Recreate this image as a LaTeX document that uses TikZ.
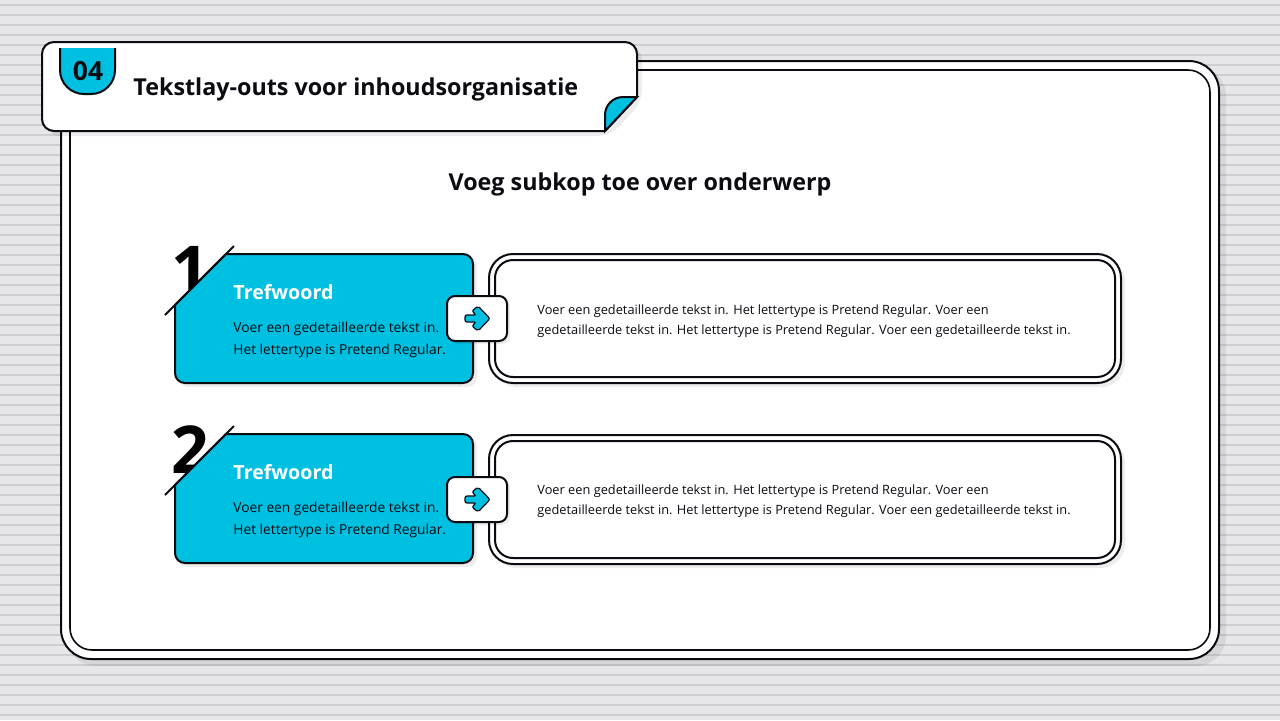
\documentclass[tikz,border=0pt]{standalone}
\usepackage{fontspec}
\setmainfont{Open Sans}
\definecolor{cyanvak}{HTML}{00C0E2}
\definecolor{inkt}{HTML}{0B0B12}
\definecolor{papier}{HTML}{E7E6E9}
\definecolor{streep}{HTML}{CECDD0}
\begin{document}
\begin{tikzpicture}[
x=0.5pt,y=-0.5pt,
lijn/.style={draw=inkt, line width=1pt},
dunlijn/.style={draw=inkt, line width=0.8pt},
schaduw/.style={fill=black, fill opacity=0.07, draw=none},
kop/.style={text=inkt, font=\bfseries\fontsize{11.65}{14}\selectfont, inner sep=0pt},
woord/.style={text=white, font=\bfseries\fontsize{9.8}{12}\selectfont, anchor=west, inner sep=0pt},
tekstklein/.style={text=inkt, font=\fontsize{6.88}{11}\selectfont, anchor=west, inner sep=0pt, align=left},
cijfer/.style={text=black, font=\bfseries\fontsize{33}{36}\selectfont, inner sep=0pt},
]
\useasboundingbox (0,0) rectangle (1280,720);
\fill[papier] (0,0) rectangle (1280,720);
\foreach \y in {5,15,...,715}
  \fill[streep] (0,\y-1) rectangle (1280,\y+1);

% grote kader
\fill[schaduw, rounded corners=15pt] (66,66) rectangle (1226,666);
\filldraw[lijn, fill=white, rounded corners=15pt] (61,61) rectangle (1219,659);
\draw[dunlijn, rounded corners=11pt] (70,70) rectangle (1210,650);

% titel
\fill[schaduw, rounded corners=6pt] (47,47) -- (642,47) -- (642,102) -- (610,136) -- (47,136) -- cycle;
\filldraw[lijn, fill=white, rounded corners=6pt] (42,42) -- (637,42) -- (637,70) [sharp corners] -- (637,97) -- (605,131) [rounded corners=6pt] -- (42,131) -- cycle;
\filldraw[lijn, fill=cyanvak] [rounded corners=9pt] (605,131) -- (605,97) [sharp corners] -- (637,97) -- cycle;
\fill[cyanvak] (60,48) -- (115,48) [rounded corners=12pt] -- (115,94) -- (60,94) [sharp corners] -- (60,48) -- cycle;
\draw[lijn, rounded corners=12pt] (60,48) -- (60,94) -- (115,94) -- (115,48);
\node[kop, font=\bfseries\fontsize{13.2}{14}\selectfont] (nummer) at (88,71) {04};
\node[kop, anchor=west] (titel) at (133,89) {Tekstlay-outs voor inhoudsorganisatie};
\node[kop] (subkop) at (640,184) {Voeg subkop toe over onderwerp};

% twee rijen
\foreach \n/\d/\k/\c in {1/0/0/1,2/180/1/2} {
  \begin{scope}[yshift=-\d*0.5pt]
  \node[cijfer] (cijfer\n) at (190,270) {\c};
  \fill[schaduw, rounded corners=5pt] (178,308) -- (229,257) -- (477,257) -- (477,387) -- (178,387) -- cycle;
  \filldraw[lijn, fill=cyanvak, rounded corners=5pt] (175,383) -- (175,320) [sharp corners] -- (175,305) -- (226,254) [rounded corners=5pt] -- (473,254) -- (473,383) -- cycle;
  \draw[lijn] (165,315) -- (234,246);
  \node[woord] (woord\n) at (233,292) {Trefwoord};
  \node[tekstklein] (links\n) at (233,340) {Voer een gedetailleerde tekst in.\\Het lettertype is Pretend Regular.};
  \begin{scope}[yshift=-\k*0.5pt]
  \fill[schaduw, rounded corners=12pt] (493,258) rectangle (1125,387);
  \filldraw[lijn, fill=white, rounded corners=12pt] (489,254) rectangle (1121,383);
  \draw[lijn, rounded corners=9pt] (495,260) rectangle (1115,377);
  \fill[schaduw, rounded corners=4pt] (450,299) rectangle (510,344);
  \filldraw[lijn, fill=white, rounded corners=4pt] (447,296) rectangle (507,341);
  \filldraw[draw=inkt, line width=0.6pt, fill=cyanvak, rounded corners=1pt] (465,315) -- (476,315) -- (472,311) -- (478,306) -- (490,318.5) -- (478,331) -- (472,326) -- (476,322) -- (465,322) -- cycle;
  \end{scope}
  \node[tekstklein, font=\fontsize{6.4}{10}\selectfont] (rechts\n) at (537,321) {Voer een gedetailleerde tekst in. Het lettertype is Pretend Regular. Voer een\\gedetailleerde tekst in. Het lettertype is Pretend Regular. Voer een gedetailleerde tekst in.};
  \end{scope}
}
\end{tikzpicture}
\end{document}
